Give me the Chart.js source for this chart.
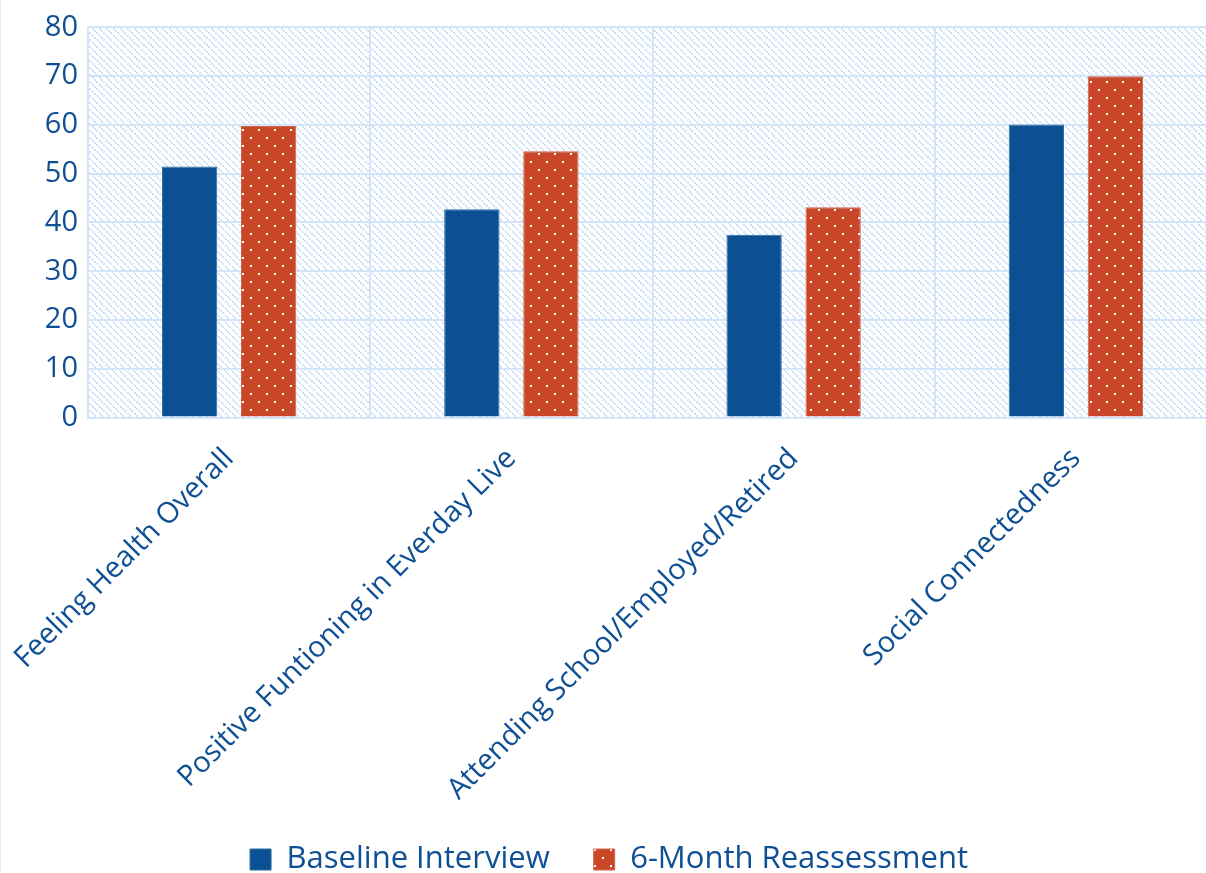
<!DOCTYPE html>
<html>
<head>
<meta charset="utf-8">
<script src="https://cdn.jsdelivr.net/npm/chart.js@4/dist/chart.umd.min.js"></script>
<style>
  html, body { margin: 0; padding: 0; background: #fff; overflow: hidden; }
  #wrap { width: 1218px; height: 885px; border-left: 1px solid #e2eef9; }
</style>
</head>
<body>
<div id="wrap"><canvas id="mychart"></canvas></div>
<script>
var categories = ["Feeling Health Overall", "Positive Funtioning in Everday Live", "Attending School/Employed/Retired", "Social Connectedness"];
var baseline = [51.5, 42.7, 37.5, 60.1];
var reassessment = [59.8, 54.6, 43.1, 70.0];
var seriesNames = ["Baseline Interview", "6-Month Reassessment"];

var textColor = "#0f4f93";
var gridColor = "#d2e5f9";

/* dotted fill for the reassessment bars */
function dotPattern() {
  var c = document.createElement("canvas");
  c.width = 16; c.height = 16;
  var g = c.getContext("2d");
  g.fillStyle = "#c94628";
  g.fillRect(0, 0, 16, 16);
  g.fillStyle = "#ffffff";
  g.fillRect(1, 1, 2, 2);
  g.fillRect(9, 9, 2, 2);
  return g.createPattern(c, "repeat");
}

/* light diagonal hatch behind the plot */
function hatchPattern() {
  var c = document.createElement("canvas");
  c.width = 7; c.height = 7;
  var g = c.getContext("2d");
  g.fillStyle = "#ffffff";
  g.fillRect(0, 0, 7, 7);
  g.fillStyle = "#cfe2f7";
  for (var i = 0; i < 7; i += 2) {
    g.fillRect(i, i, 2, 2);
  }
  return g.createPattern(c, "repeat");
}

var plotBackground = {
  id: "plotBackground",
  beforeDraw: function (chart) {
    var a = chart.chartArea;
    var ctx = chart.ctx;
    ctx.save();
    ctx.fillStyle = hatchPattern();
    ctx.fillRect(a.left, a.top, a.right - a.left, a.bottom - a.top);
    ctx.restore();
  }
};

var ctx = document.getElementById("mychart");
var chart = new Chart(ctx, {
  type: "bar",
  data: {
    labels: categories,
    datasets: [{
      label: seriesNames[0],
      data: baseline,
      backgroundColor: "#0a5093",
      borderColor: "#2f6aa3",
      borderWidth: 1,
      categoryPercentage: 0.56,
      barPercentage: 0.7,
    }, {
      label: seriesNames[1],
      data: reassessment,
      backgroundColor: dotPattern(),
      borderColor: "#d4664c",
      borderWidth: 1,
      categoryPercentage: 0.56,
      barPercentage: 0.7,
    }],
  },
  options: {
    responsive: true,
    maintainAspectRatio: false,
    animation: false,
    layout: { padding: { top: 12, right: 2, left: 0, bottom: 0 } },
    plugins: {
      tooltip: { enabled: false },
      legend: {
        display: true,
        position: "bottom",
        labels: {
          color: textColor,
          font: { family: "'Open Sans'", size: 31 },
          boxWidth: 21,
          boxHeight: 21,
          padding: 44,
        },
      },
    },
    scales: {
      x: {
        grid: { color: gridColor, lineWidth: 2, drawTicks: false, offset: true },
        border: { color: gridColor, width: 2 },
        ticks: {
          color: textColor,
          font: { family: "'Open Sans'", size: 29 },
          minRotation: 45,
          maxRotation: 45,
          padding: 24,
        },
        afterFit: function (axis) {
          axis.paddingLeft = 0;
          axis.paddingRight = 0;
          axis.height = axis.height - 31;
        },
      },
      y: {
        min: 0,
        max: 80,
        grid: { color: gridColor, lineWidth: 2, drawTicks: false },
        border: { color: gridColor, width: 2 },
        ticks: {
          stepSize: 10,
          color: textColor,
          font: { family: "'Open Sans'", size: 29 },
          padding: 10,
        },
        afterFit: function (axis) { axis.width = 87; },
      },
    },
  },
  plugins: [plotBackground],
});
</script>
</body>
</html>
